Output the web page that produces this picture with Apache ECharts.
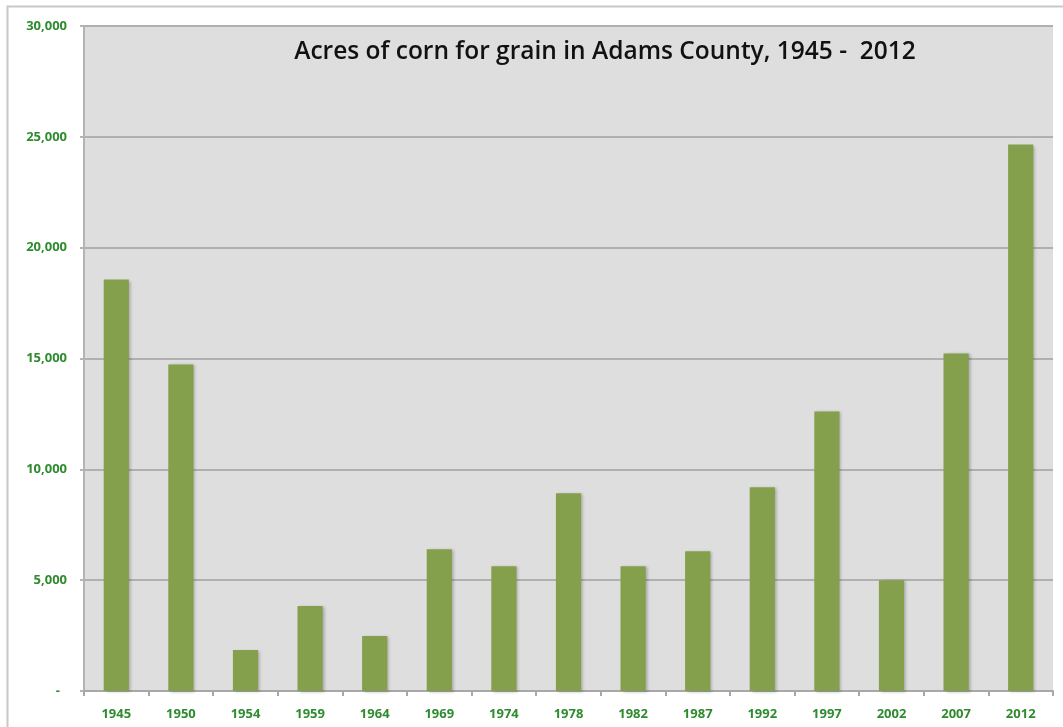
<!DOCTYPE html>
<html>
<head>
<meta charset="utf-8">
<script src="https://cdn.jsdelivr.net/npm/echarts@6/dist/echarts.min.js"></script>
<style>
  html, body { margin: 0; padding: 0; background: #ffffff; }
  #chart { width: 1063px; height: 727px; }
</style>
</head>
<body>
<div id="chart"></div>
<script>
// Census years and acres of corn harvested for grain
const years = ['1945', '1950', '1954', '1959', '1964', '1969', '1974', '1978',
               '1982', '1987', '1992', '1997', '2002', '2007', '2012'];
const acres = [18560, 14730, 1850, 3830, 2480, 6400, 5630, 8920,
               5630, 6310, 9190, 12610, 5000, 15230, 24650];
const titleText = 'Acres of corn for grain in Adams County, 1945 -  2012';

const green = '#2e8b2e';
const chart = echarts.init(document.getElementById('chart'));

chart.setOption({
  animation: false,
  backgroundColor: '#ffffff',
  graphic: [{
    type: 'rect',
    shape: { x: 7.5, y: 6.5, width: 1080, height: 760 },
    style: { fill: 'none', stroke: '#c8c8c8', lineWidth: 2 },
    z: -10
  }],
  title: {
    text: titleText,
    left: 600,
    top: 35,
    textAlign: 'center',
    textStyle: {
      fontFamily: 'Open Sans',
      fontSize: 24.5,
      fontWeight: 600,
      color: '#111111'
    }
  },
  grid: {
    left: 84, right: 10, top: 26, bottom: 36,
    show: true,
    backgroundColor: '#dedede',
    borderWidth: 0
  },
  xAxis: {
    type: 'category',
    data: years,
    axisLine: { show: true, lineStyle: { color: '#a8a8a8', width: 2 } },
    axisTick: { show: true, length: 5, lineStyle: { color: '#a8a8a8', width: 2 } },
    axisLabel: {
      color: green,
      fontFamily: 'Open Sans',
      fontWeight: 'bold',
      fontSize: 13,
      margin: 17
    }
  },
  yAxis: {
    type: 'value',
    min: 0,
    max: 30000,
    interval: 5000,
    axisLine: { show: true, lineStyle: { color: '#b4b4b4', width: 2 } },
    axisTick: { show: true, length: 4, lineStyle: { color: '#b4b4b4', width: 2 } },
    splitLine: { show: true, lineStyle: { color: '#b0b0b0', width: 2 } },
    axisLabel: {
      color: green,
      fontFamily: 'Open Sans',
      fontWeight: 'bold',
      fontSize: 13,
      margin: 17,
      formatter: function (v) {
        return v === 0 ? '{dash|-}' : v.toLocaleString('en-US');
      },
      rich: {
        dash: { color: green, fontFamily: 'Open Sans', fontWeight: 'bold', fontSize: 13, padding: [0, 7, 0, 0] }
      }
    }
  },
  series: [{
    type: 'bar',
    data: acres,
    barWidth: '39%',
    itemStyle: {
      color: '#84a04c',
      shadowColor: 'rgba(0,0,0,0.25)',
      shadowBlur: 3,
      shadowOffsetX: 2,
      shadowOffsetY: 1
    }
  }]
});
</script>
</body>
</html>
